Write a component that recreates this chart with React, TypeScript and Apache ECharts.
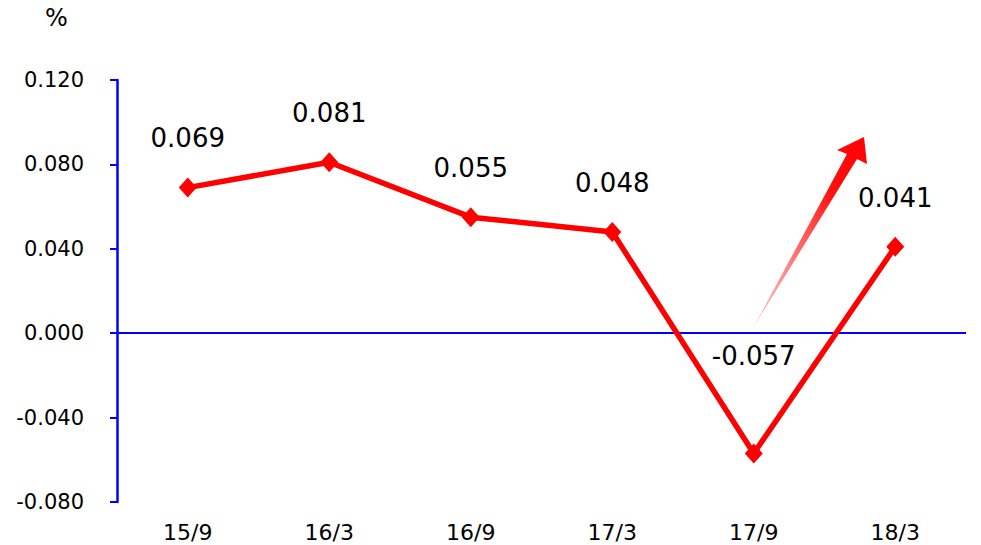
import React, { useEffect, useRef } from "react";
import * as echarts from "echarts";

const categories = ["15/9", "16/3", "16/9", "17/3", "17/9", "18/3"];
const values = [0.069, 0.081, 0.055, 0.048, -0.057, 0.041];
const labelOffsets = [-50, -49, -49, -49, -97, -49];
const yMin = -0.08;
const yMax = 0.12;
const yInterval = 0.04;

const FONT = "'DejaVu Sans', sans-serif";

export default function App() {
  const ref = useRef<HTMLDivElement>(null);
  useEffect(() => {
    if (!ref.current) return;
    const chart = echarts.init(ref.current, undefined, { renderer: "svg" });
    chart.setOption({
      animation: false,
      backgroundColor: "#ffffff",
      grid: { left: 117, right: 15, top: 80, bottom: 43 },
      xAxis: {
        type: "category",
        data: categories,
        boundaryGap: true,
        axisLine: { show: false, onZero: false },
        axisTick: { show: false },
        splitLine: { show: false },
        axisLabel: { color: "#000", fontSize: 22, fontFamily: FONT, margin: 19 },
      },
      yAxis: {
        type: "value",
        min: yMin,
        max: yMax,
        interval: yInterval,
        axisLine: { show: true, lineStyle: { color: "#0000ff", width: 2.5 } },
        axisTick: { show: true, inside: false, length: 7, lineStyle: { color: "#0000ff", width: 2 } },
        splitLine: { show: false },
        axisLabel: {
          color: "#000",
          fontSize: 21,
          fontFamily: FONT,
          margin: 33,
          formatter: (v: number) => v.toFixed(3),
        },
      },
      graphic: [
        {
          type: "text",
          left: 45,
          top: 6,
          style: { text: "%", fontSize: 24, fontFamily: FONT, fill: "#000" },
        },
        {
          type: "polygon",
          shape: {
            points: [
              [753, 328],
              [857, 159],
              [867, 164],
              [864, 137],
              [837, 150],
              [847, 154],
            ],
          },
          style: {
            fill: new echarts.graphic.LinearGradient(0, 1, 1, 0, [
              { offset: 0, color: "rgba(255,140,140,0.5)" },
              { offset: 0.7, color: "#ff1010" },
              { offset: 1, color: "#ff0000" },
            ]),
          },
          z: 10,
        },
      ],
      series: [
        {
          type: "line",
          data: values.map((v, i) => ({
            value: v,
            label: { offset: [0, labelOffsets[i]] },
          })),
          lineStyle: { color: "#ff0000", width: 5.5 },
          itemStyle: { color: "#ff0000" },
          symbol: "diamond",
          symbolSize: [18, 20],
          label: {
            show: true,
            position: "inside",
            color: "#000",
            fontSize: 26,
            fontFamily: FONT,
            formatter: (p: any) => (p.value as number).toFixed(3),
          },
          markLine: {
            silent: true,
            symbol: "none",
            label: { show: false },
            lineStyle: { color: "#0000ff", width: 2, type: "solid" },
            data: [{ yAxis: 0 }],
            z: 1,
          },
          z: 5,
        },
      ],
    });
    return () => chart.dispose();
  }, []);
  return (
    <div
      ref={ref}
      style={{ position: "fixed", left: 0, top: 0, width: 981, height: 545 }}
    />
  );
}
